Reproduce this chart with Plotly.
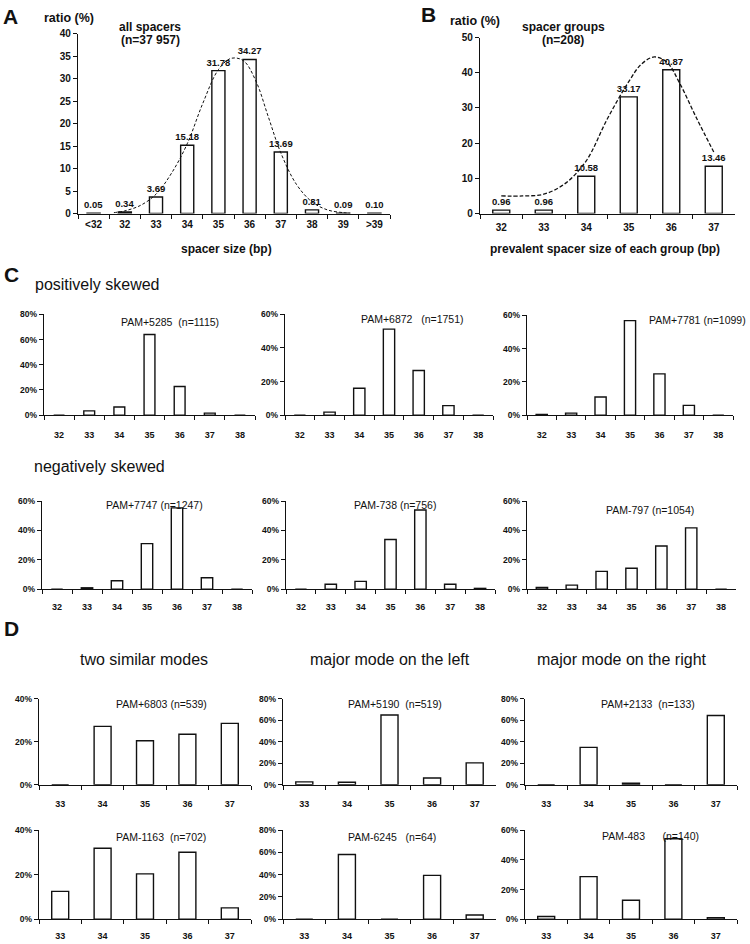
import plotly.graph_objects as go

W, H = 750, 944
FONT = "Liberation Sans, Arial, sans-serif"
INK = "#111111"


def fx(px):
    return px / W


def fy(py):
    return 1 - py / H


# ---------------- data ----------------
a_cats = ["<32", "32", "33", "34", "35", "36", "37", "38", "39", ">39"]
a_vals = [0.05, 0.34, 3.69, 15.18, 31.78, 34.27, 13.69, 0.81, 0.09, 0.10]
a_curve_bp = [31.65, 32, 32.5, 33, 33.5, 34, 34.5, 35, 35.4, 35.8, 36.2, 36.6, 37, 37.5, 38, 38.5, 39, 39.2]
a_curve_val = [0.2, 0.6, 1.8, 4.3, 9.0, 15.5, 24.5, 32.0, 34.5, 34.0, 29.5, 21.5, 13.5, 6.5, 2.6, 0.8, 0.2, 0.1]

b_cats = ["32", "33", "34", "35", "36", "37"]
b_vals = [0.96, 0.96, 10.58, 33.17, 40.87, 13.46]
b_curve_bp = [32, 32.5, 33, 33.5, 34, 34.5, 35, 35.3, 35.6, 35.9, 36.2, 36.6, 37]
b_curve_val = [5.0, 5.0, 5.5, 8.5, 15.0, 27.0, 37.5, 42.5, 44.5, 43.0, 37.0, 27.0, 17.5]

c_cats = ["32", "33", "34", "35", "36", "37", "38"]
c1_vals = [0, 3.4, 6.5, 64.0, 22.7, 1.6, 0]
c2_vals = [0, 1.8, 16.0, 51.2, 26.6, 5.7, 0]
c3_vals = [0.5, 1.2, 10.9, 56.8, 24.8, 5.9, 0]
c4_vals = [0, 0.9, 5.7, 31.0, 55.4, 7.7, 0]
c5_vals = [0, 3.3, 5.3, 33.8, 54.0, 3.3, 0.5]
c6_vals = [1.1, 2.7, 12.1, 14.2, 29.4, 41.8, 0]

d_cats = ["33", "34", "35", "36", "37"]
d1_vals = [0, 27.2, 20.5, 23.5, 28.6]
d2_vals = [2.7, 2.4, 65.0, 6.3, 20.4]
d3_vals = [0, 34.8, 1.5, 0, 64.5]
d4_vals = [12.5, 31.9, 20.4, 30.1, 5.1]
d5_vals = [0, 58.2, 0, 39.4, 3.8]
d6_vals = [1.8, 28.7, 12.8, 54.3, 1.1]

small_titles = [
    "PAM+5285  (n=1115)", "PAM+6872   (n=1751)", "PAM+7781 (n=1099)",
    "PAM+7747 (n=1247)", "PAM-738 (n=756)", "PAM-797 (n=1054)",
    "PAM+6803 (n=539)", "PAM+5190  (n=519)", "PAM+2133  (n=133)",
    "PAM-1163  (n=702)", "PAM-6245   (n=64)", "PAM-483      (n=140)",
]

# ---------------- layout geometry (pixels) ----------------
small = [
    # cats, vals, ymax, dtick, x0, x1, ytop, ybot, title x, title y, anchor, gap, standoff
    (c_cats, c1_vals, 80, 20, 44, 255, 313, 415, 170, 321, "center", 0.64, 11),
    (c_cats, c2_vals, 60, 20, 285, 493, 313, 415, 412, 318, "center", 0.62, 11),
    (c_cats, c3_vals, 60, 20, 527, 733, 314, 415, 748, 319, "right", 0.62, 11),
    (c_cats, c4_vals, 60, 20, 42, 252, 502, 591, 154, 506, "center", 0.62, 9),
    (c_cats, c5_vals, 60, 20, 286, 495, 502, 591, 395, 506, "center", 0.62, 9),
    (c_cats, c6_vals, 60, 20, 527, 736, 502, 591, 650, 511, "center", 0.62, 9),
    (d_cats, d1_vals, 40, 20, 39, 251, 702, 789, 161, 707, "center", 0.6, 10),
    (d_cats, d2_vals, 80, 20, 283, 496, 702, 789, 395, 707, "center", 0.6, 10),
    (d_cats, d3_vals, 80, 20, 525, 737, 702, 789, 648, 707, "center", 0.6, 10),
    (d_cats, d4_vals, 40, 20, 39, 251, 835, 925, 161, 842, "center", 0.6, 8),
    (d_cats, d5_vals, 80, 20, 283, 496, 835, 925, 392, 842, "center", 0.6, 8),
    (d_cats, d6_vals, 60, 20, 525, 737, 835, 925, 650, 841, "center", 0.6, 8),
]

fig = go.Figure()
layout = {}
annotations = []

bar_style = dict(marker=dict(color="white", line=dict(color=INK, width=1.4)), showlegend=False,
                 hoverinfo="x+y")


def xaxis_common(cats, size, standoff):
    return dict(type="category", categoryorder="array", categoryarray=cats,
                range=[-0.5, len(cats) - 0.5], showline=True, linecolor=INK, linewidth=1.4,
                ticks="outside", tickson="boundaries", ticklen=4, tickcolor=INK, tickwidth=1.2,
                showgrid=False, zeroline=False, ticklabelstandoff=standoff,
                tickfont=dict(family=FONT, size=size, color=INK, weight="bold"))


def yaxis_common(ymax, dtick, size, suffix=""):
    return dict(range=[0, ymax], dtick=dtick, tick0=0, showline=True, linecolor=INK, linewidth=1.4,
                ticks="outside", ticklen=4, tickcolor=INK, tickwidth=1.2, showgrid=False,
                zeroline=False, ticksuffix=suffix,
                tickfont=dict(family=FONT, size=size, color=INK, weight="bold"))


# ---------------- Panel A ----------------
fig.add_trace(go.Bar(x=a_cats, y=a_vals, text=[f"{v:.2f}" for v in a_vals], textposition="outside",
                     constraintext="none", cliponaxis=False, width=0.42,
                     textfont=dict(family=FONT, size=9.5, color=INK, weight="bold"),
                     xaxis="x", yaxis="y", **bar_style))
fig.add_trace(go.Scatter(x=a_curve_bp, y=a_curve_val, mode="lines",
                         line=dict(color=INK, width=1, dash="3px,2px", shape="spline"),
                         xaxis="x15", yaxis="y", showlegend=False, hoverinfo="skip"))
layout["xaxis"] = dict(xaxis_common(a_cats, 10, 1), domain=[fx(78), fx(390)], anchor="y")
layout["yaxis"] = dict(yaxis_common(40, 5, 10), domain=[fy(211), fy(29)], anchor="x")
layout["xaxis15"] = dict(overlaying="x", range=[30.5, 40.5], visible=False, anchor="y")

# ---------------- Panel B ----------------
fig.add_trace(go.Bar(x=b_cats, y=b_vals, text=[f"{v:.2f}" for v in b_vals], textposition="outside",
                     constraintext="none", cliponaxis=False, width=0.4,
                     textfont=dict(family=FONT, size=9.5, color=INK, weight="bold"),
                     xaxis="x2", yaxis="y2", **bar_style))
fig.add_trace(go.Scatter(x=b_curve_bp, y=b_curve_val, mode="lines",
                         line=dict(color=INK, width=1.3, dash="4px,2px", shape="spline"),
                         xaxis="x16", yaxis="y2", showlegend=False, hoverinfo="skip"))
layout["xaxis2"] = dict(xaxis_common(b_cats, 10, 4), domain=[fx(480), fx(735)], anchor="y2")
layout["yaxis2"] = dict(yaxis_common(50, 10, 10), domain=[fy(211), fy(33)], anchor="x2")
layout["xaxis16"] = dict(overlaying="x2", range=[31.5, 37.5], visible=False, anchor="y2")

# ---------------- Panels C and D ----------------
for i, (cats, vals, ymax, dt, x0, x1, yt, yb, tcx, tcy, tanc, gap, std) in enumerate(small):
    n = i + 3
    xa, ya = f"x{n}", f"y{n}"
    fig.add_trace(go.Bar(x=cats, y=vals, width=1 - gap, xaxis=xa, yaxis=ya, cliponaxis=False, **bar_style))
    layout[f"xaxis{n}"] = dict(xaxis_common(cats, 9, std), domain=[fx(x0), fx(x1)], anchor=ya)
    layout[f"yaxis{n}"] = dict(yaxis_common(ymax, dt, 8.5, "%"), domain=[fy(yb), fy(yt)], anchor=xa)
    annotations.append(dict(text=small_titles[i], x=fx(tcx), y=fy(tcy), xref="paper", yref="paper",
                            showarrow=False, xanchor=tanc, yanchor="middle",
                            font=dict(family=FONT, size=10.5, color=INK)))


def note(text, x, y, size, bold=False, xanchor="center"):
    annotations.append(dict(text=text, x=fx(x), y=fy(y), xref="paper", yref="paper", showarrow=False,
                            xanchor=xanchor, yanchor="middle",
                            font=dict(family=FONT, size=size, color=INK, weight="bold" if bold else "normal")))


note("A", 1, 12, 21, True, "left")
note("B", 419, 10, 21, True, "left")
note("C", 2, 273, 21, True, "left")
note("D", 2, 631, 21, True, "left")
note("ratio (%)", 69, 13, 12.5, True)
note("all spacers", 150, 22, 12, True)
note("(n=37 957)", 150, 35, 12, True)
note("spacer size (bp)", 227, 247, 12, True)
note("ratio (%)", 475, 16, 12.5, True)
note("spacer groups", 563, 22, 12, True)
note("(n=208)", 563, 35, 12, True)
note("prevalent spacer size of each group (bp)", 605, 247, 12, True)
note("positively skewed", 33, 283, 16, False, "left")
note("negatively skewed", 32, 467, 16, False, "left")
note("two similar modes", 144, 662, 16)
note("major mode on the left", 390, 662, 16)
note("major mode on the right", 622, 662, 16)

fig.update_layout(width=W, height=H, margin=dict(l=0, r=0, t=0, b=0), plot_bgcolor="white",
                  paper_bgcolor="white", showlegend=False, bargap=0.6,
                  annotations=annotations, font=dict(family=FONT, color=INK), **layout)

fig.write_html("out.html", config={"displayModeBar": False},
               post_script="document.body.style.margin='0';document.body.style.overflow='hidden';")
